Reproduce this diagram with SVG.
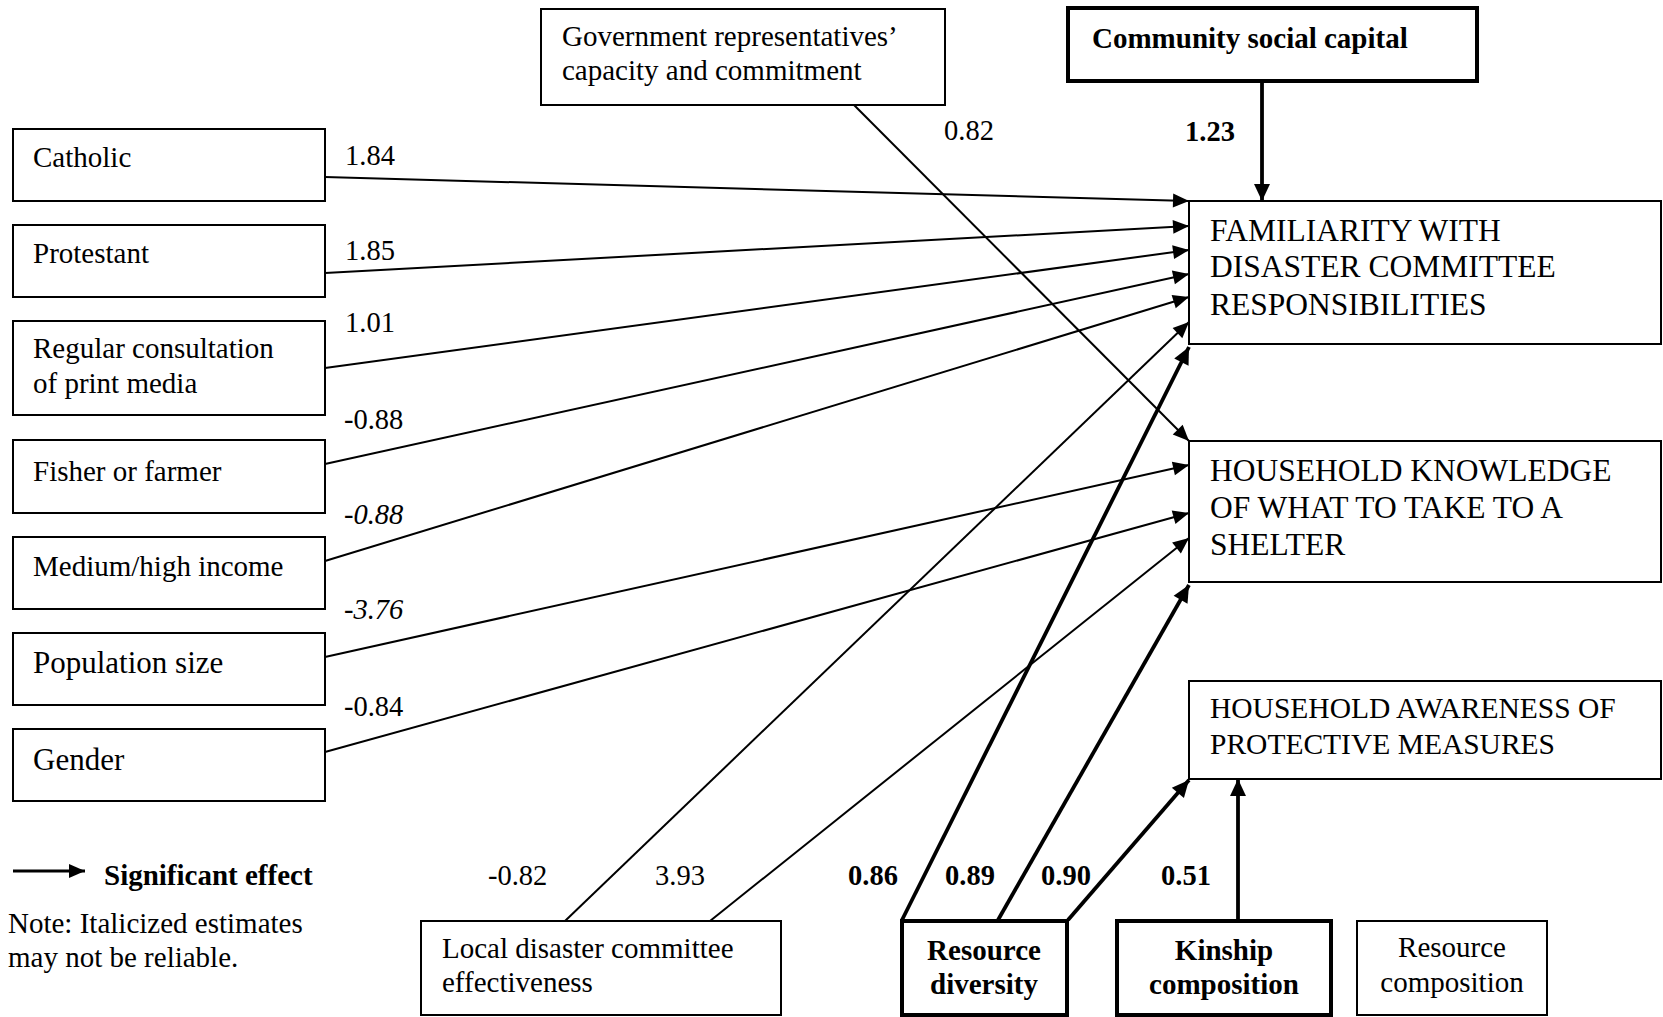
<svg xmlns="http://www.w3.org/2000/svg" width="1663" height="1017" viewBox="0 0 1663 1017">
<style>
text{font-family:"Liberation Serif","Times New Roman",serif;font-size:29px;fill:#000}
.big{font-size:31px}
.cap{font-size:31.5px}
.cap2{font-size:29.5px}
.num{font-size:28.5px}
.b{font-weight:bold}
.i{font-style:italic}
.box{fill:#fff;stroke:#000;stroke-width:2}
.tbox{fill:#fff;stroke:#000;stroke-width:4}
.thin{stroke:#000;stroke-width:2;fill:none;marker-end:url(#ah)}
.thick{stroke:#000;stroke-width:3.8;fill:none;marker-end:url(#ahb)}
</style>
<defs>
<marker id="ah" markerUnits="userSpaceOnUse" markerWidth="17" markerHeight="14" refX="16" refY="7" orient="auto" overflow="visible">
<path d="M0,0 L16,7 L0,14 z" fill="#000"/>
</marker>
<marker id="ahb" markerUnits="userSpaceOnUse" markerWidth="18" markerHeight="16" refX="17" refY="8" orient="auto" overflow="visible">
<path d="M0,0 L17,8 L0,16 z" fill="#000"/>
</marker>
</defs>
<rect width="1663" height="1017" fill="#fff"/>

<g id="connectors">
<line class="thin" x1="325" y1="177" x2="1189" y2="201"/>
<line class="thin" x1="325" y1="273" x2="1189" y2="226"/>
<line class="thin" x1="325" y1="368" x2="1189" y2="250"/>
<line class="thin" x1="325" y1="464" x2="1189" y2="274"/>
<line class="thin" x1="325" y1="561" x2="1189" y2="297"/>
<line class="thin" x1="325" y1="657" x2="1189" y2="465"/>
<line class="thin" x1="325" y1="752" x2="1189" y2="513"/>
<line class="thin" x1="854" y1="105" x2="1189" y2="441"/>
<line class="thin" x1="565" y1="921" x2="1189" y2="322"/>
<line class="thin" x1="710" y1="921" x2="1189" y2="538"/>
<line class="thick" x1="902" y1="920" x2="1189" y2="347"/>
<line class="thick" x1="998" y1="920" x2="1189" y2="585"/>
<line class="thick" x1="1068" y1="920" x2="1189" y2="780"/>
<line class="thick" x1="1238" y1="920" x2="1238" y2="779"/>
<line class="thick" x1="1262" y1="81" x2="1262" y2="201"/>
</g>

<g id="edge-labels">
<text class="num" x="345" y="165">1.84</text>
<text class="num" x="345" y="260">1.85</text>
<text class="num" x="345" y="332">1.01</text>
<text class="num" x="344" y="429">-0.88</text>
<text class="num i" x="344" y="524">-0.88</text>
<text class="num i" x="344" y="619">-3.76</text>
<text class="num" x="344" y="716">-0.84</text>
<text class="num" x="944" y="140">0.82</text>
<text class="num b" x="1185" y="141">1.23</text>
<text class="num" x="488" y="885">-0.82</text>
<text class="num" x="655" y="885">3.93</text>
<text class="num b" x="848" y="885">0.86</text>
<text class="num b" x="945" y="885">0.89</text>
<text class="num b" x="1041" y="885">0.90</text>
<text class="num b" x="1161" y="885">0.51</text>
</g>

<g id="catholic"><rect class="box" x="13" y="129" width="312" height="72"/><text x="33" y="167">Catholic</text></g>
<g id="protestant"><rect class="box" x="13" y="225" width="312" height="72"/><text x="33" y="263">Protestant</text></g>
<g id="print-media"><rect class="box" x="13" y="321" width="312" height="94"/><text x="33" y="358">Regular consultation</text><text x="33" y="393">of print media</text></g>
<g id="fisher-farmer"><rect class="box" x="13" y="440" width="312" height="73"/><text x="33" y="481">Fisher or farmer</text></g>
<g id="income"><rect class="box" x="13" y="537" width="312" height="72"/><text x="33" y="576">Medium/high income</text></g>
<g id="population"><rect class="box" x="13" y="633" width="312" height="72"/><text class="big" x="33" y="673">Population size</text></g>
<g id="gender"><rect class="box" x="13" y="729" width="312" height="72"/><text class="big" x="33" y="770">Gender</text></g>

<g id="government"><rect class="box" x="541" y="9" width="404" height="96"/><text x="562" y="46">Government representatives’</text><text x="562" y="80">capacity and commitment</text></g>
<g id="community"><rect class="tbox" x="1068" y="8" width="409" height="73"/><text class="b" x="1092" y="48">Community social capital</text></g>

<g id="familiarity"><rect class="box" x="1189" y="201" width="472" height="143"/><text class="cap" x="1210" y="241">FAMILIARITY WITH</text><text class="cap" x="1210" y="277">DISASTER COMMITTEE</text><text class="cap" x="1210" y="315">RESPONSIBILITIES</text></g>
<g id="knowledge"><rect class="box" x="1189" y="441" width="472" height="141"/><text class="cap" x="1210" y="481">HOUSEHOLD KNOWLEDGE</text><text class="cap" x="1210" y="518">OF WHAT TO TAKE TO A</text><text class="cap" x="1210" y="555">SHELTER</text></g>
<g id="awareness"><rect class="box" x="1189" y="681" width="472" height="98"/><text class="cap2" x="1210" y="718">HOUSEHOLD AWARENESS OF</text><text class="cap2" x="1210" y="754">PROTECTIVE MEASURES</text></g>

<g id="local-committee"><rect class="box" x="421" y="921" width="360" height="94"/><text x="442" y="958">Local disaster committee</text><text x="442" y="992">effectiveness</text></g>
<g id="resource-diversity"><rect class="tbox" x="902" y="921" width="165" height="94"/><text class="b" x="984" y="960" text-anchor="middle">Resource</text><text class="b" x="984" y="994" text-anchor="middle">diversity</text></g>
<g id="kinship"><rect class="tbox" x="1117" y="921" width="214" height="94"/><text class="b" x="1224" y="960" text-anchor="middle">Kinship</text><text class="b" x="1224" y="994" text-anchor="middle">composition</text></g>
<g id="resource-composition"><rect class="box" x="1357" y="921" width="190" height="94"/><text x="1452" y="957" text-anchor="middle">Resource</text><text x="1452" y="992" text-anchor="middle">composition</text></g>

<g id="legend">
<line x1="13" y1="871" x2="85" y2="871" stroke="#000" stroke-width="3" marker-end="url(#ah)"/>
<text class="b" x="104" y="885">Significant effect</text>
<text x="8" y="933">Note: Italicized estimates</text>
<text x="8" y="967">may not be reliable.</text>
</g>
</svg>
